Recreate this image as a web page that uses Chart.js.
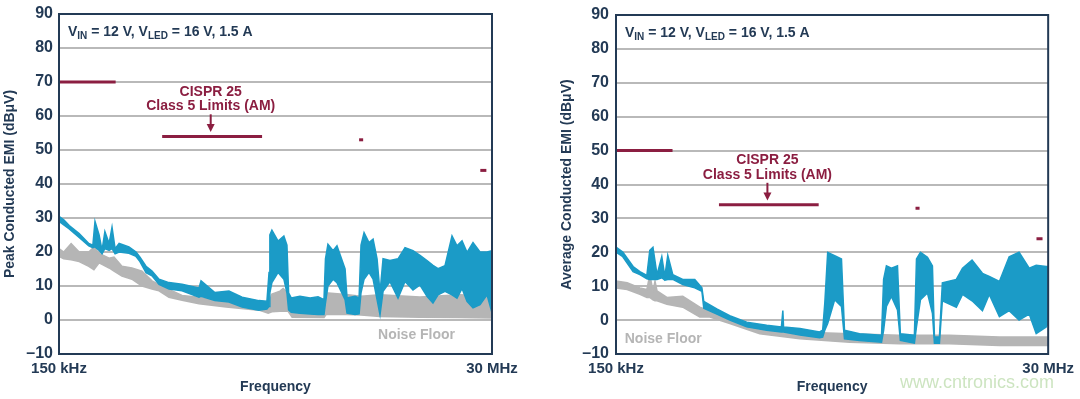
<!DOCTYPE html>
<html lang="en">
<head>
<meta charset="UTF-8">
<title>Conducted EMI - CISPR 25</title>
<script src="https://cdn.jsdelivr.net/npm/chart.js"></script>
<style>
    html, body { margin: 0; padding: 0; background: #ffffff; }
    .wrap { position: relative; width: 1080px; height: 399px; overflow: hidden; }
    .panel { position: absolute; top: 0; width: 540px; height: 399px; }
    #peakPanel { left: 0; }
    #avgPanel { left: 540px; }
</style>
</head>
<body>
<div class="wrap">
    <div class="panel" id="peakPanel"><canvas id="peakChart" width="540" height="399"></canvas></div>
    <div class="panel" id="avgPanel"><canvas id="avgChart" width="540" height="399"></canvas></div>
</div>
<script>
// frequency in MHz, level in dBuV
const xTickValues = [0.15, 30];
const xTickLabels = ['150 kHz', '30 MHz'];
const yTickValues = [-10, 0, 10, 20, 30, 40, 50, 60, 70, 80, 90];

// CISPR 25 class 5 limits (AM bands)
const limitStart = [0.15, 0.53, 5.9, 26];
const limitEnd = [0.3, 1.8, 6.2, 28];
const peakLimit = [70, 54, 53, 44];
const avgLimit = [50, 34, 33, 24];

// peak conducted EMI (band: high / low envelope)
const peakFreq = [0.150, 0.159, 0.170, 0.192, 0.216, 0.227, 0.233, 0.245, 0.254, 0.263, 0.277, 0.287, 0.298, 0.313, 0.353, 0.385, 0.404, 0.435, 0.468, 0.510, 0.576, 0.676, 0.832, 0.853, 1.01, 1.20, 1.41, 1.73, 1.91, 1.96, 1.98, 2.03, 2.19, 2.35, 2.44, 2.49, 2.57, 2.86, 3.24, 3.57, 3.84, 3.91, 4.03, 4.29, 4.50, 4.97, 5.09, 5.61, 5.90, 6.04, 6.27, 6.66, 7.00, 7.35, 7.62, 7.91, 8.61, 9.50, 10.35, 11.41, 12.43, 13.54, 14.57, 15.50, 16.88, 18.39, 19.55, 20.79, 22.10, 23.78, 25.91, 28.23, 30];
const peakHigh = [30.5, 29.5, 27.8, 25.4, 22.5, 22, 29, 25, 20.5, 26, 22.5, 27.3, 21, 22.5, 21.5, 20, 18.5, 15.8, 14.4, 12, 11, 10.5, 9.4, 11.5, 8.1, 8.5, 6.7, 5.7, 5.5, 14, 25, 26.4, 23.2, 24.7, 22, 8, 6.5, 7, 6.5, 6.8, 6, 18, 22.3, 20.4, 21.8, 15, 6.5, 7, 6.5, 22, 25.7, 22.8, 23.8, 18, 8, 18, 17.5, 18, 21.3, 20.4, 19, 17.5, 16.1, 15.1, 16, 24.7, 21.8, 23.3, 19.9, 22.8, 20, 20, 20.4];
const peakLow = [29, 28, 26.8, 24.3, 21.8, 21.3, 21.5, 20.5, 19.5, 21, 20.5, 21, 19.5, 20, 19.6, 18.7, 17.2, 13.9, 13, 10.5, 9.1, 8.6, 6.7, 7, 5.7, 5.3, 3.8, 2.9, 3.2, 4, 8, 11, 14, 12, 8, 3, 2.3, 2, 1.8, 1.6, 1.6, 5, 10, 12, 11, 6, 2, 1.6, 1.8, 8, 12, 14, 12, 6, 1.5, 8.4, 11.3, 6.4, 11.3, 8.8, 10.3, 7, 5, 7.4, 8.4, 7.4, 6.4, 9.3, 5.5, 3.6, 4.5, 7.4, 2.1];

const peakNoiseFreq = [0.150, 0.159, 0.174, 0.192, 0.216, 0.230, 0.245, 0.277, 0.294, 0.324, 0.366, 0.414, 0.468, 0.510, 0.576, 0.676, 0.832, 1.16, 1.73, 1.94, 2.03, 2.24, 2.33, 2.47, 2.60, 3.84, 3.94, 5.03, 6.04, 7.62, 12.43, 20.3, 30];
const peakNoiseHigh = [21, 20, 22.5, 20, 20, 21.5, 19.6, 18.2, 18.5, 15.8, 15.3, 14.4, 11.5, 10.5, 9, 7.2, 6.7, 5.2, 4.3, 4.5, 7.6, 8.5, 9.3, 8, 2.8, 2.6, 8, 7.5, 7, 7.4, 6.8, 7.4, 7.0];
const peakNoiseLow = [18.7, 18, 17.7, 17.2, 15.8, 14.8, 16.8, 15.3, 14.4, 12.9, 12, 10, 9.1, 8.6, 6.7, 5.8, 4.8, 3.8, 2.9, 2, 2.4, 2.6, 2.6, 2.6, 0.8, 0.7, 1.6, 1.6, 1.5, 1, 0.8, 0.7, 0.6];

// average conducted EMI
const avgFreq = [0.150, 0.163, 0.185, 0.201, 0.219, 0.227, 0.236, 0.248, 0.263, 0.273, 0.283, 0.301, 0.340, 0.394, 0.430, 0.440, 0.516, 0.605, 0.745, 0.952, 1.14, 1.16, 1.17, 1.43, 1.82, 1.89, 1.94, 2.01, 2.19, 2.38, 2.47, 2.97, 3.89, 3.99, 4.13, 4.39, 4.73, 4.90, 5.82, 5.97, 6.27, 6.83, 7.26, 7.44, 7.91, 8.20, 9.73, 10.5, 11.8, 13.4, 14.57, 16.5, 18.6, 21.0, 23.78, 25.91, 29.3, 30];
const avgHigh = [21.5, 20.1, 15.8, 14.3, 13.2, 20.6, 21.5, 13.4, 18.7, 12.9, 19.1, 13.4, 12, 12, 9.5, 5.5, 3.3, 1.3, -0.6, -1.5, -2, 2.8, -2, -2.5, -3.5, -3, 5, 20, 19, 18, -3, -4, -4.5, 12, 16, 15.3, 16, -4, -4.5, 18, 20, 18.5, 16, -5, -5, 11, 12, 15.3, 17.7, 13.8, 12.9, 11.4, 18.7, 20, 15.3, 16.2, 15.8, 15.8];
const avgLow = [20.1, 18.7, 14.3, 13.4, 12.2, 12, 12, 12, 12.5, 11.8, 12, 12, 10.5, 9.5, 8.5, 3.5, 1.8, 0, -2, -3, -3.5, -3.5, -3.5, -4.4, -5.2, -5, -3, -1, 6, 4, -5.5, -6, -6.5, -3, 4, 7, 3, -6, -6.8, -2, 6, 8, 2, -6.8, -6.8, 5.7, 3.8, 7.6, 5.7, 2.8, 7.6, 1, 2.8, 0, 1.8, -4, -2, -1];

const avgNoiseFreq = [0.150, 0.172, 0.201, 0.219, 0.227, 0.236, 0.242, 0.248, 0.280, 0.340, 0.419, 0.474, 0.605, 0.874, 1.43, 2.63, 4.85, 8.93, 16.5, 30];
const avgNoiseHigh = [11.5, 11, 9.5, 9, 13.4, 8.6, 11.5, 8.6, 6.7, 7, 3.8, 2.8, 0.5, -2.5, -3.5, -4, -4.5, -4.5, -5, -5];
const avgNoiseLow = [9.5, 9, 7.6, 6.7, 6.7, 6, 5.7, 5.7, 4.7, 3.8, 0.9, 0.9, -1, -4, -5.5, -6.5, -7, -7, -7.5, -7.5];

const NAVY = '#233a55';
const BLUE = '#1b9bc7';
const GRAY = '#b5b5b5';
const MAROON = '#8b1e41';
const FONT = '"Liberation Sans", Arial, sans-serif';

function bandSets(freq, high, low, color) {
    const common = { borderColor: color, backgroundColor: color, borderWidth: 1.5, pointRadius: 0, tension: 0 };
    return [
        { ...common, data: freq.map((f, i) => ({ x: f, y: high[i] })), fill: '+1' },
        { ...common, data: freq.map((f, i) => ({ x: f, y: low[i] })), fill: false }
    ];
}

function limitSets(levels) {
    return levels.map((lv, i) => ({
        data: [{ x: limitStart[i], y: lv }, { x: limitEnd[i], y: lv }],
        borderColor: MAROON, borderWidth: 3, pointRadius: 0, fill: false
    }));
}

// frame, condition text, limit caption, noise floor label
function overlay(cfg) {
    return {
        id: 'overlay',
        afterDraw(chart) {
            const { ctx, chartArea: a, scales: { x, y } } = chart;
            ctx.save();
            ctx.strokeStyle = NAVY;
            ctx.lineWidth = 2;
            ctx.strokeRect(a.left, a.top, a.right - a.left, a.bottom - a.top);

            // V_IN = 12 V, V_LED = 16 V, 1.5 A
            ctx.fillStyle = NAVY;
            ctx.textBaseline = 'alphabetic';
            ctx.textAlign = 'left';
            let cx = a.left + 9;
            const by = a.top + 22;
            const parts = [['V', 0], ['IN', 1], [' = 12 V, V', 0], ['LED', 1], [' = 16 V, 1.5 A', 0]];
            parts.forEach(([t, sub]) => {
                ctx.font = 'bold ' + (sub ? 10 : 14) + 'px ' + FONT;
                ctx.fillText(t, cx, by + (sub ? 3 : 0));
                cx += ctx.measureText(t).width;
            });

            // CISPR 25 caption with arrow to the medium-wave limit
            const lim = cfg.limits[1];
            const ax = x.getPixelForValue(0.96);
            ctx.fillStyle = MAROON;
            ctx.strokeStyle = MAROON;
            ctx.font = 'bold 14px ' + FONT;
            ctx.textAlign = 'center';
            ctx.fillText('CISPR 25', ax, y.getPixelForValue(lim + 12));
            ctx.fillText('Class 5 Limits (AM)', ax, y.getPixelForValue(lim + 7.7));
            const y0 = y.getPixelForValue(lim + 6.5);
            const tip = y.getPixelForValue(lim + 1.3);
            ctx.lineWidth = 2;
            ctx.beginPath();
            ctx.moveTo(ax, y0);
            ctx.lineTo(ax, tip - 6);
            ctx.stroke();
            ctx.beginPath();
            ctx.moveTo(ax - 4, tip - 8);
            ctx.lineTo(ax + 4, tip - 8);
            ctx.lineTo(ax, tip);
            ctx.closePath();
            ctx.fill();

            // Noise Floor label
            ctx.fillStyle = GRAY;
            ctx.textAlign = 'left';
            ctx.font = 'bold 14px ' + FONT;
            ctx.fillText('Noise Floor', x.getPixelForValue(cfg.noiseAt[0]), y.getPixelForValue(cfg.noiseAt[1]));

            if (cfg.watermark) {
                ctx.fillStyle = 'rgba(170, 210, 150, 0.6)';
                ctx.font = '18px ' + FONT;
                ctx.fillText(cfg.watermark, 360, 388);
            }
            ctx.restore();
        }
    };
}

function makeChart(id, cfg) {
    const datasets = [
        ...limitSets(cfg.limits),
        ...bandSets(cfg.freq, cfg.high, cfg.low, BLUE),
        ...bandSets(cfg.noiseFreq, cfg.noiseHigh, cfg.noiseLow, GRAY)
    ];
    return new Chart(document.getElementById(id), {
        type: 'line',
        data: { datasets },
        options: {
            responsive: false,
            animation: false,
            devicePixelRatio: 1,
            layout: { padding: { left: cfg.padLeft, right: cfg.padRight, top: 8, bottom: 0 } },
            plugins: { legend: { display: false }, tooltip: { enabled: false } },
            scales: {
                x: {
                    type: 'logarithmic',
                    min: 0.15,
                    max: 30,
                    afterBuildTicks: s => { s.ticks = xTickValues.map(v => ({ value: v })); },
                    afterFit: s => { s.height = 45; },
                    grid: { display: false, drawTicks: false },
                    border: { display: false },
                    ticks: {
                        autoSkip: false,
                        maxRotation: 0,
                        padding: 6,
                        color: NAVY,
                        font: { family: FONT, size: 15, weight: 'bold' },
                        callback: (v, i) => xTickLabels[i]
                    },
                    title: {
                        display: true,
                        text: 'Frequency',
                        color: NAVY,
                        font: { family: FONT, size: 14, weight: 'bold' },
                        padding: { top: 0, bottom: 3 }
                    }
                },
                y: {
                    min: -10,
                    max: 90,
                    afterBuildTicks: s => { s.ticks = yTickValues.map(v => ({ value: v })); },
                    afterFit: s => { s.width = cfg.yWidth; },
                    grid: { color: '#b9b9b9', lineWidth: 2, drawTicks: false },
                    border: { display: false },
                    ticks: {
                        padding: cfg.tickPad,
                        color: NAVY,
                        font: { family: FONT, size: 16, weight: 'bold', lineHeight: 1 },
                        callback: v => v < 0 ? '\u2013' + Math.abs(v) : String(v)
                    },
                    title: {
                        display: true,
                        text: cfg.yTitle,
                        color: NAVY,
                        font: { family: FONT, size: 14, weight: 'bold' },
                        padding: { top: cfg.titlePad, bottom: 0 }
                    }
                }
            }
        },
        plugins: [overlay(cfg)]
    });
}

makeChart('peakChart', {
    freq: peakFreq, high: peakHigh, low: peakLow,
    noiseFreq: peakNoiseFreq, noiseHigh: peakNoiseHigh, noiseLow: peakNoiseLow,
    limits: peakLimit,
    yTitle: 'Peak Conducted EMI (dB\u03bcV)',
    padLeft: 0, padRight: 48, yWidth: 59, tickPad: 6, titlePad: 2,
    noiseAt: [7.44, -5.7]
});

makeChart('avgChart', {
    freq: avgFreq, high: avgHigh, low: avgLow,
    noiseFreq: avgNoiseFreq, noiseHigh: avgNoiseHigh, noiseLow: avgNoiseLow,
    limits: avgLimit,
    yTitle: 'Average Conducted EMI (dB\u03bcV)',
    padLeft: 19, padRight: 31, yWidth: 57, tickPad: 7, titlePad: 0,
    noiseAt: [0.167, -6.8],
    watermark: 'www.cntronics.com'
});
</script>
</body>
</html>
